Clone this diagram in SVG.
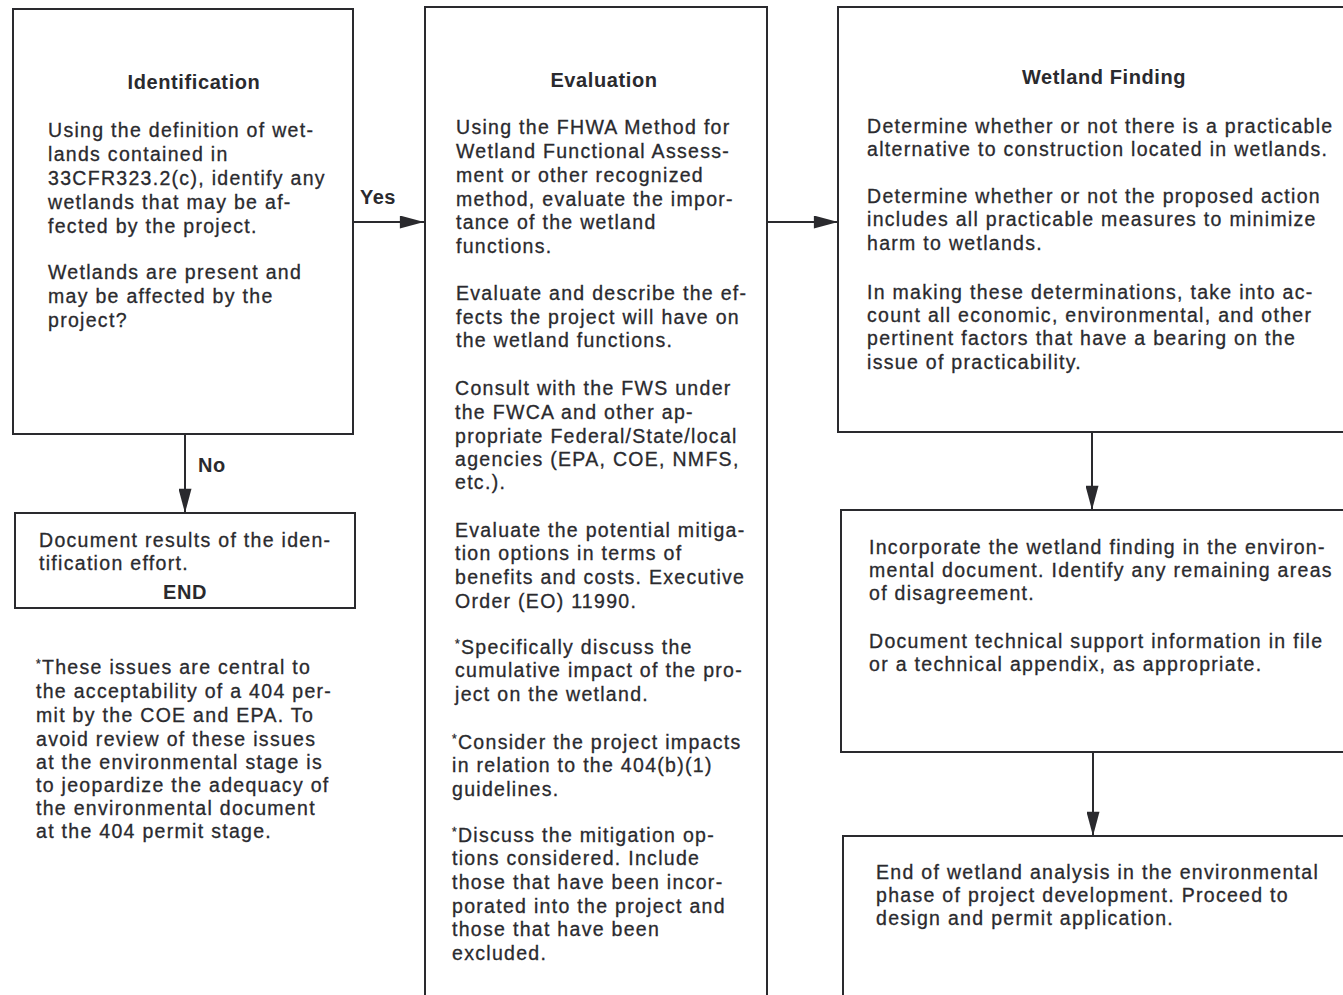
<svg xmlns="http://www.w3.org/2000/svg" width="1343" height="995" viewBox="0 0 1343 995">
<style>
.box{fill:#fff;stroke:#2a2a2e;stroke-width:2}
.t{font-family:"Liberation Sans",Arial,sans-serif;font-size:19.5px;letter-spacing:1.3px;fill:#2a2a2e;stroke:#2a2a2e;stroke-width:0.3px}
.h{font-family:"Liberation Sans",Arial,sans-serif;font-size:20px;font-weight:bold;letter-spacing:0.6px;fill:#2a2a2e;text-anchor:middle}
.lbl{font-family:"Liberation Sans",Arial,sans-serif;font-size:20px;font-weight:bold;letter-spacing:0.5px;fill:#2a2a2e}
.c{fill:none;stroke:#2a2a2e;stroke-width:2}
.s{font-size:12px}
</style>
<defs>
<marker id="ah" viewBox="0 0 26 14" refX="26" refY="7" markerWidth="26" markerHeight="13" markerUnits="userSpaceOnUse" orient="auto">
<path d="M0,0 L26,7 L0,14 Z" fill="#2a2a2e"/>
</marker>
</defs>
<rect width="1343" height="995" fill="#fff"/>
<g id="connectors">
<line class="c" x1="353" y1="222" x2="424" y2="222" marker-end="url(#ah)"/>
<line class="c" x1="767" y1="222" x2="838" y2="222" marker-end="url(#ah)"/>
<line class="c" x1="185" y1="434" x2="185" y2="513" marker-end="url(#ah)"/>
<line class="c" x1="1092" y1="432" x2="1092" y2="510" marker-end="url(#ah)"/>
<line class="c" x1="1093" y1="752" x2="1093" y2="836" marker-end="url(#ah)"/>
<text class="lbl" x="360" y="204">Yes</text>
<text class="lbl" x="198" y="472">No</text>
</g>
<g id="identification">
<rect class="box" x="13" y="9" width="340" height="425"/>
<text class="h" x="194" y="89">Identification</text>
<text class="t" x="48" y="137">Using the definition of wet-</text>
<text class="t" x="48" y="161">lands contained in</text>
<text class="t" x="48" y="185">33CFR323.2(c), identify any</text>
<text class="t" x="48" y="209">wetlands that may be af-</text>
<text class="t" x="48" y="233">fected by the project.</text>
<text class="t" x="48" y="279">Wetlands are present and</text>
<text class="t" x="48" y="303">may be affected by the</text>
<text class="t" x="48" y="327">project?</text>
</g>
<g id="document-results">
<rect class="box" x="15" y="513" width="340" height="95"/>
<text class="t" x="39" y="547">Document results of the iden-</text>
<text class="t" x="39" y="570">tification effort.</text>
<text class="h" x="185" y="599">END</text>
</g>
<g id="footnote">
<text class="t" x="36" y="674"><tspan class="s" dy="-6">*</tspan><tspan dy="6">These issues are central to</tspan></text>
<text class="t" x="36" y="698">the acceptability of a 404 per-</text>
<text class="t" x="36" y="722">mit by the COE and EPA. To</text>
<text class="t" x="36" y="746">avoid review of these issues</text>
<text class="t" x="36" y="769">at the environmental stage is</text>
<text class="t" x="36" y="792">to jeopardize the adequacy of</text>
<text class="t" x="36" y="815">the environmental document</text>
<text class="t" x="36" y="838">at the 404 permit stage.</text>
</g>
<g id="evaluation">
<rect class="box" x="425" y="7" width="342" height="1000"/>
<text class="h" x="604" y="87">Evaluation</text>
<text class="t" x="456" y="134">Using the FHWA Method for</text>
<text class="t" x="456" y="158">Wetland Functional Assess-</text>
<text class="t" x="456" y="182">ment or other recognized</text>
<text class="t" x="456" y="206">method, evaluate the impor-</text>
<text class="t" x="456" y="229">tance of the wetland</text>
<text class="t" x="456" y="253">functions.</text>
<text class="t" x="456" y="300">Evaluate and describe the ef-</text>
<text class="t" x="456" y="324">fects the project will have on</text>
<text class="t" x="456" y="347">the wetland functions.</text>
<text class="t" x="455" y="395">Consult with the FWS under</text>
<text class="t" x="455" y="419">the FWCA and other ap-</text>
<text class="t" x="455" y="443">propriate Federal/State/local</text>
<text class="t" x="455" y="466">agencies (EPA, COE, NMFS,</text>
<text class="t" x="455" y="489">etc.).</text>
<text class="t" x="455" y="537">Evaluate the potential mitiga-</text>
<text class="t" x="455" y="560">tion options in terms of</text>
<text class="t" x="455" y="584">benefits and costs. Executive</text>
<text class="t" x="455" y="608">Order (EO) 11990.</text>
<text class="t" x="455" y="654"><tspan class="s" dy="-6">*</tspan><tspan dy="6">Specifically discuss the</tspan></text>
<text class="t" x="455" y="677">cumulative impact of the pro-</text>
<text class="t" x="455" y="701">ject on the wetland.</text>
<text class="t" x="452" y="749"><tspan class="s" dy="-6">*</tspan><tspan dy="6">Consider the project impacts</tspan></text>
<text class="t" x="452" y="772">in relation to the 404(b)(1)</text>
<text class="t" x="452" y="796">guidelines.</text>
<text class="t" x="452" y="842"><tspan class="s" dy="-6">*</tspan><tspan dy="6">Discuss the mitigation op-</tspan></text>
<text class="t" x="452" y="865">tions considered. Include</text>
<text class="t" x="452" y="889">those that have been incor-</text>
<text class="t" x="452" y="913">porated into the project and</text>
<text class="t" x="452" y="936">those that have been</text>
<text class="t" x="452" y="960">excluded.</text>
</g>
<g id="wetland-finding">
<rect class="box" x="838" y="7" width="600" height="425"/>
<text class="h" x="1104" y="84">Wetland Finding</text>
<text class="t" x="867" y="133">Determine whether or not there is a practicable</text>
<text class="t" x="867" y="156">alternative to construction located in wetlands.</text>
<text class="t" x="867" y="203">Determine whether or not the proposed action</text>
<text class="t" x="867" y="226">includes all practicable measures to minimize</text>
<text class="t" x="867" y="250">harm to wetlands.</text>
<text class="t" x="867" y="299">In making these determinations, take into ac-</text>
<text class="t" x="867" y="322">count all economic, environmental, and other</text>
<text class="t" x="867" y="345">pertinent factors that have a bearing on the</text>
<text class="t" x="867" y="369">issue of practicability.</text>
</g>
<g id="incorporate">
<rect class="box" x="841" y="510" width="600" height="242"/>
<text class="t" x="869" y="554">Incorporate the wetland finding in the environ-</text>
<text class="t" x="869" y="577">mental document. Identify any remaining areas</text>
<text class="t" x="869" y="600">of disagreement.</text>
<text class="t" x="869" y="648">Document technical support information in file</text>
<text class="t" x="869" y="671">or a technical appendix, as appropriate.</text>
</g>
<g id="end-analysis">
<rect class="box" x="843" y="836" width="600" height="200"/>
<text class="t" x="876" y="879">End of wetland analysis in the environmental</text>
<text class="t" x="876" y="902">phase of project development. Proceed to</text>
<text class="t" x="876" y="925">design and permit application.</text>
</g>
</svg>
